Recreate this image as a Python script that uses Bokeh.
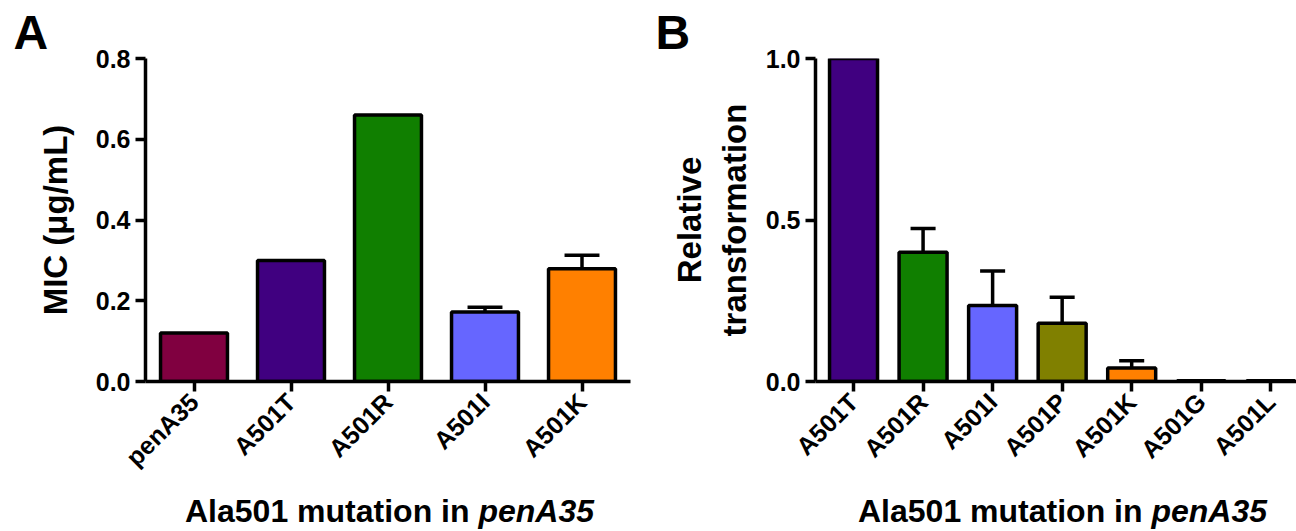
import math
from bokeh.plotting import figure
from bokeh.layouts import row, column
from bokeh.models import Range1d, FixedTicker, PrintfTickFormatter, ColumnDataSource, Title, Div
from bokeh.embed import file_html
from bokeh.resources import INLINE

# ---------------- data ----------------
a_names = ["penA35", "A501T", "A501R", "A501I", "A501K"]
a_mic = [0.12, 0.30, 0.66, 0.172, 0.279]
a_err = [0.0, 0.0, 0.0, 0.012, 0.034]
a_colors = ["#800040", "#400080", "#107F00", "#6666FF", "#FF8000"]
a_yticks = [0.0, 0.2, 0.4, 0.6, 0.8]

b_names = ["A501T", "A501R", "A501I", "A501P", "A501K", "A501G", "A501L"]
b_rel = [1.0, 0.40, 0.235, 0.18, 0.042, 0.002, 0.002]
b_err = [0.0, 0.074, 0.107, 0.081, 0.022, 0.0, 0.0]
b_colors = ["#400080", "#107F00", "#6666FF", "#808000", "#FF8000", "#FFFFFF", "#FFFFFF"]
b_yticks = [0.0, 0.5, 1.0]

FONT = "Liberation Sans"
BAR_W = 0.69
CAP_HALF = 0.18
FIG_H = 488


def style_axes(p, yticks, ylabel, label_size, standoff, ylabel_fmt="%.1f"):
    p.xgrid.visible = False
    p.ygrid.visible = False
    p.outline_line_color = None
    p.background_fill_color = "white"
    p.border_fill_color = "white"
    for ax in (p.xaxis[0], p.yaxis[0]):
        ax.axis_line_width = 3.5
        ax.axis_line_color = "black"
        ax.major_tick_line_width = 3.5
        ax.major_tick_line_color = "black"
        ax.major_tick_out = 10
        ax.major_tick_in = 0
        ax.minor_tick_line_color = None
        ax.major_label_text_font = FONT
        ax.major_label_text_font_style = "bold"
        ax.major_label_text_font_size = "25px"
        ax.major_label_text_color = "black"
        ax.major_label_standoff = 5
    ya = p.yaxis[0]
    ya.ticker = FixedTicker(ticks=yticks)
    ya.formatter = PrintfTickFormatter(format=ylabel_fmt)
    ya.axis_label = ylabel
    ya.axis_label_text_font = FONT
    ya.axis_label_text_font_style = "bold"
    ya.axis_label_text_font_size = label_size
    ya.axis_label_text_color = "black"
    ya.axis_label_standoff = standoff
    p.xaxis[0].major_label_orientation = math.pi / 4
    p.xaxis[0].major_label_standoff = 6


def bars(p, names, vals, errs, colors):
    xs = list(range(len(names)))
    src = ColumnDataSource(dict(x=xs, top=vals, color=colors))
    p.vbar(x="x", top="top", bottom=0, width=BAR_W, fill_color="color",
           line_color="black", line_width=3.5, source=src)
    ex = [x for x, e in zip(xs, errs) if e > 0]
    ev = [v for v, e in zip(vals, errs) if e > 0]
    ee = [v + e for v, e in zip(vals, errs) if e > 0]
    p.segment(x0=ex, y0=ev, x1=ex, y1=ee, line_color="black", line_width=3.5)
    p.segment(x0=[x - CAP_HALF for x in ex], y0=ee, x1=[x + CAP_HALF for x in ex], y1=ee,
              line_color="black", line_width=3.5)


def panel_letter(p, letter, offset):
    p.add_layout(Title(text=letter, align="left", offset=offset, standoff=0,
                       text_font=FONT, text_font_style="bold", text_font_size="48px",
                       text_color="black"), "above")


def xtitle(left_pad):
    html = ('<div style="font-family:\'Liberation Sans\',Arial,sans-serif;font-weight:bold;'
            'font-size:32px;line-height:36px;white-space:nowrap;color:black;'
            'margin-left:%dpx">Ala501 mutation in <i>penA35</i></div>' % left_pad)
    return Div(text=html, width=648, height=43)


# ---------------- panel A ----------------
pa = figure(width=648, height=FIG_H, output_backend="svg", toolbar_location=None,
            x_range=Range1d(-0.5, 4.5), y_range=Range1d(0, 0.8),
            min_border_left=145, min_border_right=18, min_border_top=58, min_border_bottom=FIG_H - 381)
style_axes(pa, a_yticks, "MIC (\u03bcg/mL)", "33px", 19)
pa.xaxis[0].ticker = FixedTicker(ticks=list(range(len(a_names))))
pa.xaxis[0].major_label_overrides = {i: n for i, n in enumerate(a_names)}
bars(pa, a_names, a_mic, a_err, a_colors)
panel_letter(pa, "A", -132)

# ---------------- panel B ----------------
pb = figure(width=648, height=FIG_H, output_backend="svg", toolbar_location=None,
            x_range=Range1d(-0.547, 6.37), y_range=Range1d(0, 1.0),
            min_border_left=167, min_border_right=0, min_border_top=58, min_border_bottom=FIG_H - 381)
style_axes(pb, b_yticks, "Relative\ntransformation", "33px", 10)
pb.xaxis[0].ticker = FixedTicker(ticks=list(range(len(b_names))))
pb.xaxis[0].major_label_overrides = {i: n for i, n in enumerate(b_names)}
bars(pb, b_names, b_rel, b_err, b_colors)
panel_letter(pb, "B", -160)

layout = column(row(pa, pb), row(xtitle(180), xtitle(195)))
open("out.html", "w").write(file_html(layout, INLINE))
